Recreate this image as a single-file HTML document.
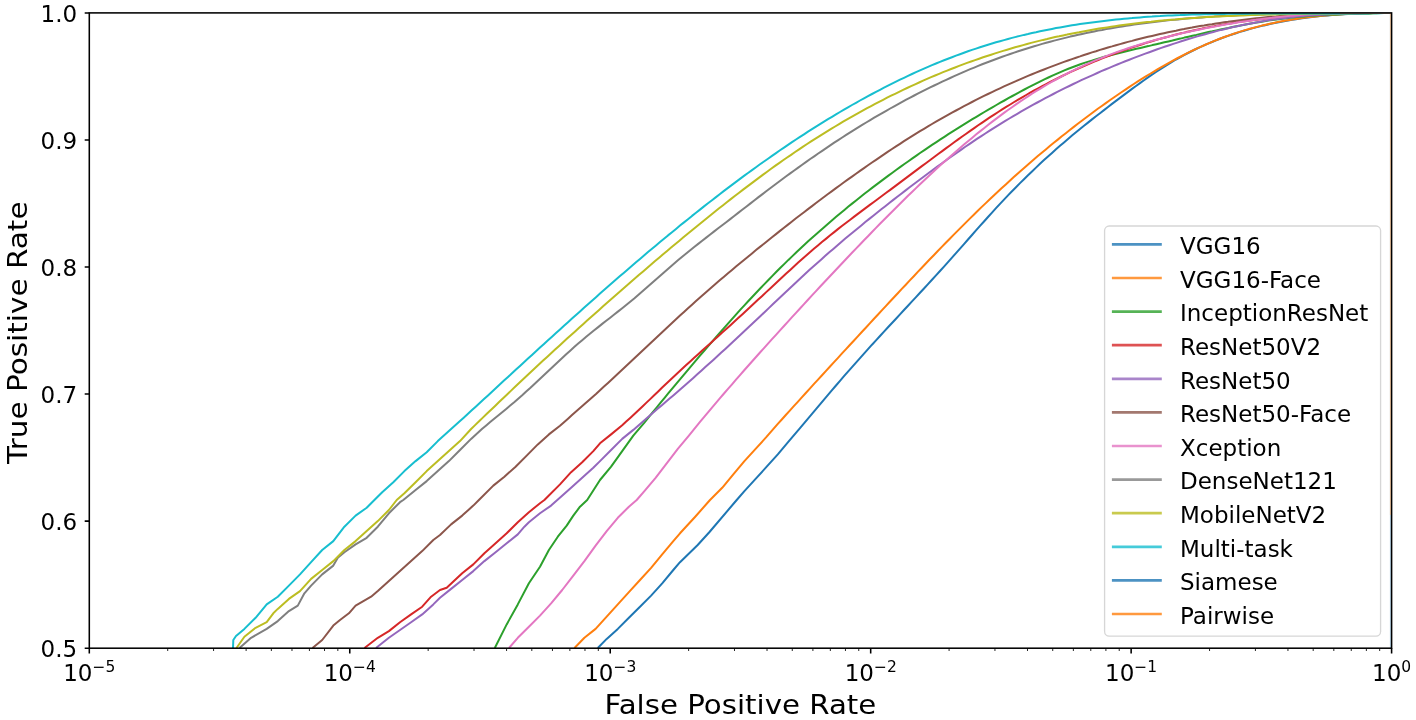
<!DOCTYPE html>
<html lang="en"><head><meta charset="utf-8"><title>ROC curves</title>
<style>html,body{margin:0;padding:0;background:#fff}svg{display:block}text{font-family:"DejaVu Sans","Liberation Sans",sans-serif;fill:#000}</style></head><body>
<svg width="1416" height="720" viewBox="0 0 1416 720">
<rect width="1416" height="720" fill="#fff"/>
<defs><clipPath id="ax"><rect x="89.3" y="12.9" width="1302.3" height="635.3000000000001"/></clipPath></defs>
<g clip-path="url(#ax)" fill="none" stroke-width="2.0" stroke-linejoin="round" stroke-linecap="butt">
<path d="M597.8,648.0 L606.7,638.9 L617.8,628.9 L628.9,617.8 L640.0,606.7 L651.1,595.6 L662.2,583.3 L673.3,570.0 L680.0,562.2 L697.7,545.0 L709.5,532.0 L736.7,500.0 L744.4,491.1 L755.6,478.9 L766.7,466.7 L777.8,454.4 L788.9,441.1 L800.0,428.1 L804.0,423.3 L808.0,418.6 L812.0,413.8 L816.0,409.1 L820.0,404.3 L824.0,399.6 L828.0,394.9 L832.0,390.2 L836.0,385.5 L840.0,380.9 L844.0,376.2 L848.0,371.6 L852.0,367.1 L856.0,362.6 L860.0,358.1 L864.0,353.6 L868.0,349.2 L872.0,344.7 L876.0,340.4 L880.0,336.0 L884.0,331.6 L888.0,327.3 L892.0,323.0 L896.0,318.7 L900.0,314.4 L904.0,310.0 L908.0,305.7 L912.0,301.4 L916.0,297.1 L920.0,292.8 L924.0,288.5 L928.0,284.1 L932.0,279.8 L936.0,275.4 L940.0,271.0 L944.0,266.6 L948.0,262.1 L952.0,257.6 L956.0,253.1 L960.0,248.6 L964.0,244.1 L968.0,239.5 L972.0,235.0 L976.0,230.4 L980.0,225.9 L984.0,221.5 L988.0,217.0 L992.0,212.6 L996.0,208.2 L1000.0,203.9 L1004.0,199.6 L1008.0,195.4 L1012.0,191.3 L1016.0,187.2 L1020.0,183.1 L1024.0,179.2 L1028.0,175.2 L1032.0,171.4 L1036.0,167.6 L1040.0,163.8 L1044.0,160.1 L1048.0,156.5 L1052.0,152.9 L1056.0,149.3 L1060.0,145.8 L1064.0,142.4 L1068.0,139.0 L1072.0,135.6 L1076.0,132.3 L1080.0,129.0 L1084.0,125.8 L1088.0,122.6 L1092.0,119.4 L1096.0,116.3 L1100.0,113.2 L1104.0,110.1 L1108.0,107.0 L1112.0,103.9 L1116.0,100.9 L1120.0,97.9 L1124.0,94.9 L1128.0,91.9 L1132.0,88.9 L1136.0,86.0 L1140.0,83.1 L1144.0,80.3 L1148.0,77.4 L1152.0,74.7 L1156.0,72.0 L1160.0,69.4 L1164.0,66.8 L1168.0,64.3 L1172.0,61.9 L1176.0,59.5 L1180.0,57.3 L1184.0,55.1 L1188.0,53.0 L1192.0,51.0 L1196.0,49.0 L1200.0,47.2 L1204.0,45.4 L1208.0,43.6 L1212.0,42.0 L1216.0,40.4 L1220.0,38.8 L1224.0,37.3 L1228.0,35.9 L1232.0,34.5 L1236.0,33.2 L1240.0,31.9 L1244.0,30.7 L1248.0,29.6 L1252.0,28.4 L1256.0,27.4 L1260.0,26.4 L1264.0,25.4 L1268.0,24.5 L1272.0,23.6 L1276.0,22.7 L1280.0,21.9 L1284.0,21.2 L1288.0,20.5 L1292.0,19.8 L1296.0,19.2 L1300.0,18.6 L1304.0,18.0 L1308.0,17.5 L1312.0,17.0 L1316.0,16.5 L1320.0,16.1 L1324.0,15.7 L1328.0,15.4 L1332.0,15.0 L1336.0,14.7 L1340.0,14.4 L1344.0,14.2 L1348.0,14.0 L1352.0,13.8 L1356.0,13.6 L1360.0,13.4 L1364.0,13.3 L1368.0,13.2 L1372.0,13.1 L1376.0,13.0 L1380.0,13.0 L1384.0,12.9 L1388.0,12.9 L1391.5,12.9" stroke="#1f77b4"/>
<path d="M574.5,648.0 L584.4,637.8 L595.6,628.9 L606.7,616.7 L617.8,604.4 L628.9,592.2 L640.0,580.0 L651.1,567.8 L662.2,554.4 L673.3,541.1 L680.0,533.3 L695.0,517.0 L710.0,500.0 L722.2,487.8 L733.3,474.4 L744.4,461.1 L755.6,448.9 L766.7,436.7 L777.8,423.9 L781.8,419.5 L785.8,415.0 L789.8,410.6 L793.8,406.2 L797.8,401.8 L801.8,397.4 L805.8,393.0 L809.8,388.6 L813.8,384.2 L817.8,379.9 L821.8,375.5 L825.8,371.1 L829.8,366.8 L833.8,362.4 L837.8,358.1 L841.8,353.7 L845.8,349.4 L849.8,345.0 L853.8,340.7 L857.8,336.3 L861.8,332.0 L865.8,327.7 L869.8,323.4 L873.8,319.0 L877.8,314.7 L881.8,310.4 L885.8,306.1 L889.8,301.8 L893.8,297.5 L897.8,293.2 L901.8,288.9 L905.8,284.7 L909.8,280.4 L913.8,276.2 L917.8,271.9 L921.8,267.7 L925.8,263.5 L929.8,259.3 L933.8,255.2 L937.8,251.0 L941.8,246.9 L945.8,242.8 L949.8,238.7 L953.8,234.6 L957.8,230.6 L961.8,226.6 L965.8,222.6 L969.8,218.6 L973.8,214.7 L977.8,210.8 L981.8,206.9 L985.8,203.1 L989.8,199.3 L993.8,195.5 L997.8,191.8 L1001.8,188.0 L1005.8,184.4 L1009.8,180.7 L1013.8,177.1 L1017.8,173.5 L1021.8,170.0 L1025.8,166.5 L1029.8,163.0 L1033.8,159.5 L1037.8,156.1 L1041.8,152.8 L1045.8,149.4 L1049.8,146.1 L1053.8,142.8 L1057.8,139.6 L1061.8,136.3 L1065.8,133.2 L1069.8,130.0 L1073.8,126.9 L1077.8,123.8 L1081.8,120.8 L1085.8,117.7 L1089.8,114.7 L1093.8,111.8 L1097.8,108.8 L1101.8,106.0 L1105.8,103.1 L1109.8,100.3 L1113.8,97.5 L1117.8,94.7 L1121.8,92.0 L1125.8,89.3 L1129.8,86.6 L1133.8,84.0 L1137.8,81.4 L1141.8,78.9 L1145.8,76.4 L1149.8,74.0 L1153.8,71.6 L1157.8,69.2 L1161.8,66.9 L1165.8,64.6 L1169.8,62.4 L1173.8,60.2 L1177.8,58.0 L1181.8,56.0 L1185.8,53.9 L1189.8,51.9 L1193.8,50.0 L1197.8,48.1 L1201.8,46.3 L1205.8,44.5 L1209.8,42.8 L1213.8,41.1 L1217.8,39.5 L1221.8,38.0 L1225.8,36.5 L1229.8,35.1 L1233.8,33.7 L1237.8,32.4 L1241.8,31.1 L1245.8,29.9 L1249.8,28.8 L1253.8,27.7 L1257.8,26.6 L1261.8,25.6 L1265.8,24.7 L1269.8,23.8 L1273.8,22.9 L1277.8,22.1 L1281.8,21.3 L1285.8,20.6 L1289.8,19.9 L1293.8,19.3 L1297.8,18.7 L1301.8,18.1 L1305.8,17.6 L1309.8,17.1 L1313.8,16.7 L1317.8,16.2 L1321.8,15.8 L1325.8,15.5 L1329.8,15.1 L1333.8,14.8 L1337.8,14.6 L1341.8,14.3 L1345.8,14.1 L1349.8,13.9 L1353.8,13.7 L1357.8,13.5 L1361.8,13.4 L1365.8,13.3 L1369.8,13.2 L1373.8,13.1 L1377.8,13.0 L1381.8,13.0 L1385.8,12.9 L1389.8,12.9 L1391.5,12.9" stroke="#ff7f0e"/>
<path d="M494.8,648.0 L506.7,624.4 L517.8,604.4 L528.9,583.3 L540.0,566.7 L548.9,550.0 L557.8,536.7 L566.7,525.6 L573.3,515.6 L580.0,506.7 L587.2,500.0 L600.0,480.0 L611.1,466.7 L622.2,451.1 L633.3,435.6 L644.4,422.6 L648.4,417.7 L652.4,412.7 L656.4,407.8 L660.4,402.9 L664.4,398.1 L668.4,393.2 L672.4,388.4 L676.4,383.6 L680.4,378.9 L684.4,374.1 L688.4,369.3 L692.4,364.6 L696.4,359.9 L700.4,355.2 L704.4,350.5 L708.4,345.9 L712.4,341.3 L716.4,336.7 L720.4,332.1 L724.4,327.6 L728.4,323.1 L732.4,318.6 L736.4,314.1 L740.4,309.7 L744.4,305.4 L748.4,301.0 L752.4,296.7 L756.4,292.5 L760.4,288.3 L764.4,284.1 L768.4,280.0 L772.4,275.9 L776.4,271.8 L780.4,267.8 L784.4,263.9 L788.4,259.9 L792.4,256.1 L796.4,252.3 L800.4,248.5 L804.4,244.8 L808.4,241.1 L812.4,237.5 L816.4,233.9 L820.4,230.4 L824.4,226.9 L828.4,223.4 L832.4,220.0 L836.4,216.6 L840.4,213.2 L844.4,209.9 L848.4,206.6 L852.4,203.4 L856.4,200.2 L860.4,197.0 L864.4,193.8 L868.4,190.7 L872.4,187.6 L876.4,184.6 L880.4,181.6 L884.4,178.6 L888.4,175.6 L892.4,172.7 L896.4,169.8 L900.4,166.9 L904.4,164.0 L908.4,161.2 L912.4,158.4 L916.4,155.6 L920.4,152.8 L924.4,150.1 L928.4,147.4 L932.4,144.7 L936.4,142.1 L940.4,139.4 L944.4,136.8 L948.4,134.2 L952.4,131.7 L956.4,129.2 L960.4,126.6 L964.4,124.1 L968.4,121.7 L972.4,119.2 L976.4,116.8 L980.4,114.4 L984.4,112.0 L988.4,109.7 L992.4,107.3 L996.4,105.0 L1000.4,102.7 L1004.4,100.5 L1008.4,98.2 L1012.4,96.0 L1016.4,93.8 L1020.4,91.6 L1024.4,89.5 L1028.4,87.4 L1032.4,85.3 L1036.4,83.3 L1040.4,81.3 L1044.4,79.4 L1048.4,77.5 L1052.4,75.6 L1056.4,73.8 L1060.4,72.1 L1064.4,70.4 L1068.4,68.8 L1072.4,67.2 L1076.4,65.7 L1080.4,64.3 L1084.4,62.9 L1088.4,61.6 L1092.4,60.4 L1096.4,59.1 L1100.4,58.0 L1104.4,56.8 L1108.4,55.8 L1112.4,54.7 L1116.4,53.7 L1120.4,52.7 L1124.4,51.7 L1128.4,50.7 L1132.4,49.8 L1136.4,48.8 L1140.4,47.9 L1144.4,47.0 L1148.4,46.1 L1152.4,45.1 L1156.4,44.2 L1160.4,43.3 L1164.4,42.3 L1168.4,41.4 L1172.4,40.5 L1176.4,39.5 L1180.4,38.6 L1184.4,37.6 L1188.4,36.7 L1192.4,35.8 L1196.4,34.9 L1200.4,33.9 L1204.4,33.0 L1208.4,32.1 L1212.4,31.3 L1216.4,30.4 L1220.4,29.5 L1224.4,28.7 L1228.4,27.9 L1232.4,27.0 L1236.4,26.2 L1240.4,25.5 L1244.4,24.7 L1248.4,24.0 L1252.4,23.3 L1256.4,22.6 L1260.4,21.9 L1264.4,21.2 L1268.4,20.6 L1272.4,20.0 L1276.4,19.5 L1280.4,18.9 L1284.4,18.4 L1288.4,18.0 L1292.4,17.5 L1296.4,17.1 L1300.4,16.7 L1304.4,16.4 L1308.4,16.0 L1312.4,15.7 L1316.4,15.5 L1320.4,15.2 L1324.4,15.0 L1328.4,14.8 L1332.4,14.6 L1336.4,14.4 L1340.4,14.2 L1344.4,14.1 L1348.4,13.9 L1352.4,13.8 L1356.4,13.7 L1360.4,13.6 L1364.4,13.5 L1368.4,13.4 L1372.4,13.3 L1376.4,13.2 L1380.4,13.1 L1384.4,13.1 L1388.4,13.0 L1391.5,12.9" stroke="#2ca02c"/>
<path d="M364.5,648.0 L377.8,637.8 L388.9,631.1 L400.0,622.2 L411.1,614.4 L422.2,606.7 L431.1,596.7 L440.0,590.0 L446.7,587.8 L462.2,573.3 L473.3,564.4 L484.4,553.3 L495.6,543.3 L506.7,533.3 L517.8,522.2 L528.9,512.2 L540.0,503.3 L544.4,500.0 L560.0,484.4 L571.1,472.2 L582.2,462.2 L593.3,451.1 L600.0,443.3 L611.1,434.4 L622.2,425.2 L626.2,421.6 L630.2,418.0 L634.2,414.3 L638.2,410.6 L642.2,406.8 L646.2,402.9 L650.2,399.1 L654.2,395.2 L658.2,391.4 L662.2,387.5 L666.2,383.7 L670.2,379.9 L674.2,376.2 L678.2,372.5 L682.2,368.8 L686.2,365.1 L690.2,361.4 L694.2,357.8 L698.2,354.2 L702.2,350.6 L706.2,347.0 L710.2,343.4 L714.2,339.8 L718.2,336.2 L722.2,332.6 L726.2,329.0 L730.2,325.4 L734.2,321.8 L738.2,318.1 L742.2,314.5 L746.2,310.8 L750.2,307.1 L754.2,303.3 L758.2,299.6 L762.2,295.9 L766.2,292.1 L770.2,288.4 L774.2,284.7 L778.2,280.9 L782.2,277.2 L786.2,273.5 L790.2,269.9 L794.2,266.2 L798.2,262.6 L802.2,259.0 L806.2,255.5 L810.2,252.0 L814.2,248.6 L818.2,245.2 L822.2,241.8 L826.2,238.6 L830.2,235.3 L834.2,232.1 L838.2,228.9 L842.2,225.8 L846.2,222.7 L850.2,219.7 L854.2,216.6 L858.2,213.6 L862.2,210.6 L866.2,207.6 L870.2,204.6 L874.2,201.7 L878.2,198.7 L882.2,195.8 L886.2,192.8 L890.2,189.9 L894.2,186.9 L898.2,183.9 L902.2,180.9 L906.2,177.9 L910.2,174.9 L914.2,171.9 L918.2,168.9 L922.2,165.9 L926.2,163.0 L930.2,160.0 L934.2,157.0 L938.2,154.0 L942.2,151.1 L946.2,148.1 L950.2,145.2 L954.2,142.3 L958.2,139.4 L962.2,136.5 L966.2,133.7 L970.2,130.9 L974.2,128.1 L978.2,125.3 L982.2,122.6 L986.2,119.9 L990.2,117.2 L994.2,114.6 L998.2,112.0 L1002.2,109.4 L1006.2,106.9 L1010.2,104.5 L1014.2,102.0 L1018.2,99.6 L1022.2,97.3 L1026.2,95.0 L1030.2,92.7 L1034.2,90.5 L1038.2,88.3 L1042.2,86.2 L1046.2,84.1 L1050.2,82.0 L1054.2,80.0 L1058.2,78.0 L1062.2,76.0 L1066.2,74.1 L1070.2,72.2 L1074.2,70.4 L1078.2,68.5 L1082.2,66.8 L1086.2,65.0 L1090.2,63.3 L1094.2,61.6 L1098.2,60.0 L1102.2,58.4 L1106.2,56.8 L1110.2,55.3 L1114.2,53.8 L1118.2,52.3 L1122.2,50.9 L1126.2,49.5 L1130.2,48.1 L1134.2,46.8 L1138.2,45.5 L1142.2,44.2 L1146.2,42.9 L1150.2,41.7 L1154.2,40.5 L1158.2,39.4 L1162.2,38.3 L1166.2,37.2 L1170.2,36.1 L1174.2,35.0 L1178.2,34.0 L1182.2,33.1 L1186.2,32.1 L1190.2,31.2 L1194.2,30.3 L1198.2,29.4 L1202.2,28.6 L1206.2,27.7 L1210.2,26.9 L1214.2,26.2 L1218.2,25.4 L1222.2,24.7 L1226.2,24.0 L1230.2,23.4 L1234.2,22.7 L1238.2,22.1 L1242.2,21.5 L1246.2,20.9 L1250.2,20.4 L1254.2,19.9 L1258.2,19.4 L1262.2,18.9 L1266.2,18.4 L1270.2,18.0 L1274.2,17.6 L1278.2,17.2 L1282.2,16.8 L1286.2,16.5 L1290.2,16.1 L1294.2,15.8 L1298.2,15.5 L1302.2,15.3 L1306.2,15.0 L1310.2,14.8 L1314.2,14.6 L1318.2,14.4 L1322.2,14.2 L1326.2,14.0 L1330.2,13.9 L1334.2,13.7 L1338.2,13.6 L1342.2,13.5 L1346.2,13.4 L1350.2,13.3 L1354.2,13.2 L1358.2,13.2 L1362.2,13.1 L1366.2,13.1 L1370.2,13.1 L1374.2,13.0 L1378.2,13.0 L1382.2,13.0 L1386.2,13.0 L1390.2,13.0 L1391.5,13.0" stroke="#d62728"/>
<path d="M376.0,648.0 L388.9,637.8 L400.0,630.0 L411.1,622.2 L422.2,614.4 L433.3,604.4 L440.0,597.8 L451.1,588.9 L462.2,580.0 L473.3,571.1 L484.4,561.1 L495.6,552.2 L506.7,543.3 L517.8,534.4 L524.4,526.7 L528.9,522.2 L540.0,513.3 L551.1,505.6 L557.3,500.0 L571.1,487.8 L582.2,477.8 L593.3,467.8 L600.0,461.1 L611.1,450.0 L622.2,438.9 L633.3,429.9 L637.3,426.4 L641.3,422.9 L645.3,419.5 L649.3,416.0 L653.3,412.6 L657.3,409.1 L661.3,405.7 L665.3,402.3 L669.3,398.8 L673.3,395.4 L677.3,391.9 L681.3,388.4 L685.3,384.9 L689.3,381.4 L693.3,377.9 L697.3,374.3 L701.3,370.7 L705.3,367.1 L709.3,363.5 L713.3,359.9 L717.3,356.3 L721.3,352.6 L725.3,348.9 L729.3,345.2 L733.3,341.5 L737.3,337.8 L741.3,334.1 L745.3,330.3 L749.3,326.5 L753.3,322.8 L757.3,319.0 L761.3,315.2 L765.3,311.4 L769.3,307.6 L773.3,303.8 L777.3,300.0 L781.3,296.2 L785.3,292.4 L789.3,288.7 L793.3,284.9 L797.3,281.2 L801.3,277.5 L805.3,273.8 L809.3,270.1 L813.3,266.5 L817.3,262.9 L821.3,259.4 L825.3,255.8 L829.3,252.3 L833.3,248.9 L837.3,245.4 L841.3,242.0 L845.3,238.6 L849.3,235.3 L853.3,232.0 L857.3,228.7 L861.3,225.4 L865.3,222.1 L869.3,218.9 L873.3,215.7 L877.3,212.5 L881.3,209.3 L885.3,206.2 L889.3,203.0 L893.3,199.9 L897.3,196.8 L901.3,193.7 L905.3,190.6 L909.3,187.5 L913.3,184.5 L917.3,181.5 L921.3,178.5 L925.3,175.5 L929.3,172.5 L933.3,169.6 L937.3,166.6 L941.3,163.7 L945.3,160.9 L949.3,158.0 L953.3,155.2 L957.3,152.4 L961.3,149.6 L965.3,146.8 L969.3,144.1 L973.3,141.4 L977.3,138.7 L981.3,136.1 L985.3,133.5 L989.3,130.9 L993.3,128.4 L997.3,125.9 L1001.3,123.4 L1005.3,120.9 L1009.3,118.5 L1013.3,116.1 L1017.3,113.8 L1021.3,111.4 L1025.3,109.2 L1029.3,106.9 L1033.3,104.7 L1037.3,102.5 L1041.3,100.3 L1045.3,98.2 L1049.3,96.1 L1053.3,94.0 L1057.3,91.9 L1061.3,89.9 L1065.3,87.9 L1069.3,86.0 L1073.3,84.0 L1077.3,82.1 L1081.3,80.2 L1085.3,78.4 L1089.3,76.6 L1093.3,74.8 L1097.3,73.0 L1101.3,71.2 L1105.3,69.5 L1109.3,67.8 L1113.3,66.1 L1117.3,64.5 L1121.3,62.9 L1125.3,61.3 L1129.3,59.7 L1133.3,58.1 L1137.3,56.6 L1141.3,55.1 L1145.3,53.6 L1149.3,52.2 L1153.3,50.7 L1157.3,49.3 L1161.3,47.9 L1165.3,46.5 L1169.3,45.2 L1173.3,43.9 L1177.3,42.6 L1181.3,41.3 L1185.3,40.0 L1189.3,38.8 L1193.3,37.6 L1197.3,36.4 L1201.3,35.3 L1205.3,34.2 L1209.3,33.1 L1213.3,32.0 L1217.3,30.9 L1221.3,29.9 L1225.3,29.0 L1229.3,28.0 L1233.3,27.1 L1237.3,26.2 L1241.3,25.3 L1245.3,24.5 L1249.3,23.7 L1253.3,22.9 L1257.3,22.2 L1261.3,21.4 L1265.3,20.8 L1269.3,20.1 L1273.3,19.5 L1277.3,18.9 L1281.3,18.4 L1285.3,17.9 L1289.3,17.4 L1293.3,16.9 L1297.3,16.5 L1301.3,16.2 L1305.3,15.8 L1309.3,15.5 L1313.3,15.2 L1317.3,14.9 L1321.3,14.7 L1325.3,14.5 L1329.3,14.3 L1333.3,14.1 L1337.3,13.9 L1341.3,13.8 L1345.3,13.6 L1349.3,13.5 L1353.3,13.4 L1357.3,13.4 L1361.3,13.3 L1365.3,13.2 L1369.3,13.1 L1373.3,13.1 L1377.3,13.0 L1381.3,13.0 L1385.3,13.0 L1389.3,12.9 L1391.5,12.9" stroke="#9467bd"/>
<path d="M312.5,648.0 L322.2,640.0 L333.3,625.6 L340.0,620.0 L348.9,613.3 L355.6,605.6 L371.1,596.7 L377.8,591.1 L388.9,581.1 L400.0,571.1 L411.1,561.1 L422.2,551.1 L433.3,540.0 L440.0,535.0 L451.1,524.4 L462.2,515.6 L473.3,505.6 L478.9,500.0 L493.3,485.6 L504.4,476.7 L515.6,466.7 L526.7,455.6 L537.8,444.4 L548.9,434.4 L560.0,425.7 L564.0,422.2 L568.0,418.7 L572.0,415.1 L576.0,411.6 L580.0,408.1 L584.0,404.6 L588.0,401.0 L592.0,397.4 L596.0,393.9 L600.0,390.2 L604.0,386.6 L608.0,382.9 L612.0,379.2 L616.0,375.5 L620.0,371.8 L624.0,368.1 L628.0,364.3 L632.0,360.6 L636.0,356.8 L640.0,353.0 L644.0,349.2 L648.0,345.5 L652.0,341.7 L656.0,337.9 L660.0,334.2 L664.0,330.4 L668.0,326.7 L672.0,323.0 L676.0,319.3 L680.0,315.6 L684.0,311.9 L688.0,308.3 L692.0,304.7 L696.0,301.1 L700.0,297.5 L704.0,294.0 L708.0,290.5 L712.0,287.0 L716.0,283.6 L720.0,280.1 L724.0,276.7 L728.0,273.3 L732.0,270.0 L736.0,266.6 L740.0,263.3 L744.0,260.0 L748.0,256.7 L752.0,253.4 L756.0,250.1 L760.0,246.9 L764.0,243.7 L768.0,240.4 L772.0,237.2 L776.0,234.1 L780.0,230.9 L784.0,227.7 L788.0,224.6 L792.0,221.5 L796.0,218.3 L800.0,215.3 L804.0,212.2 L808.0,209.1 L812.0,206.1 L816.0,203.0 L820.0,200.0 L824.0,197.0 L828.0,194.0 L832.0,191.1 L836.0,188.1 L840.0,185.2 L844.0,182.3 L848.0,179.4 L852.0,176.6 L856.0,173.7 L860.0,170.9 L864.0,168.1 L868.0,165.3 L872.0,162.5 L876.0,159.8 L880.0,157.1 L884.0,154.4 L888.0,151.7 L892.0,149.0 L896.0,146.4 L900.0,143.8 L904.0,141.2 L908.0,138.7 L912.0,136.2 L916.0,133.7 L920.0,131.2 L924.0,128.8 L928.0,126.4 L932.0,124.0 L936.0,121.7 L940.0,119.4 L944.0,117.1 L948.0,114.9 L952.0,112.6 L956.0,110.5 L960.0,108.3 L964.0,106.2 L968.0,104.1 L972.0,102.0 L976.0,99.9 L980.0,97.9 L984.0,95.9 L988.0,94.0 L992.0,92.1 L996.0,90.2 L1000.0,88.3 L1004.0,86.4 L1008.0,84.6 L1012.0,82.8 L1016.0,81.1 L1020.0,79.3 L1024.0,77.6 L1028.0,75.9 L1032.0,74.3 L1036.0,72.6 L1040.0,71.0 L1044.0,69.5 L1048.0,67.9 L1052.0,66.4 L1056.0,64.9 L1060.0,63.4 L1064.0,61.9 L1068.0,60.5 L1072.0,59.1 L1076.0,57.7 L1080.0,56.4 L1084.0,55.0 L1088.0,53.7 L1092.0,52.4 L1096.0,51.2 L1100.0,49.9 L1104.0,48.7 L1108.0,47.5 L1112.0,46.4 L1116.0,45.2 L1120.0,44.1 L1124.0,43.0 L1128.0,41.9 L1132.0,40.9 L1136.0,39.8 L1140.0,38.8 L1144.0,37.8 L1148.0,36.8 L1152.0,35.9 L1156.0,35.0 L1160.0,34.1 L1164.0,33.2 L1168.0,32.3 L1172.0,31.5 L1176.0,30.7 L1180.0,29.8 L1184.0,29.1 L1188.0,28.3 L1192.0,27.6 L1196.0,26.8 L1200.0,26.1 L1204.0,25.5 L1208.0,24.8 L1212.0,24.2 L1216.0,23.5 L1220.0,22.9 L1224.0,22.3 L1228.0,21.8 L1232.0,21.2 L1236.0,20.7 L1240.0,20.2 L1244.0,19.7 L1248.0,19.2 L1252.0,18.7 L1256.0,18.3 L1260.0,17.9 L1264.0,17.5 L1268.0,17.1 L1272.0,16.7 L1276.0,16.4 L1280.0,16.0 L1284.0,15.7 L1288.0,15.4 L1292.0,15.1 L1296.0,14.9 L1300.0,14.6 L1304.0,14.4 L1308.0,14.1 L1312.0,13.9 L1316.0,13.7 L1320.0,13.6 L1324.0,13.4 L1328.0,13.3 L1332.0,13.1 L1336.0,13.0 L1340.0,12.9 L1344.0,12.9 L1348.0,12.9 L1352.0,12.9 L1356.0,12.9 L1360.0,12.9 L1364.0,12.9 L1368.0,12.9 L1372.0,12.9 L1376.0,12.9 L1380.0,12.9 L1384.0,12.9 L1388.0,12.9 L1391.5,12.9" stroke="#8c564b"/>
<path d="M509.0,648.0 L517.8,637.8 L528.9,626.7 L540.0,615.6 L551.1,603.3 L562.2,590.0 L573.3,575.6 L584.4,561.1 L595.6,545.6 L606.7,531.1 L617.8,517.8 L628.9,506.7 L636.7,500.0 L644.4,491.1 L655.6,477.8 L666.7,463.3 L677.8,448.9 L688.9,435.6 L700.0,421.9 L704.0,417.1 L708.0,412.3 L712.0,407.6 L716.0,402.8 L720.0,398.2 L724.0,393.5 L728.0,388.9 L732.0,384.3 L736.0,379.7 L740.0,375.1 L744.0,370.5 L748.0,366.0 L752.0,361.5 L756.0,357.0 L760.0,352.5 L764.0,348.1 L768.0,343.6 L772.0,339.2 L776.0,334.8 L780.0,330.4 L784.0,326.0 L788.0,321.6 L792.0,317.2 L796.0,312.8 L800.0,308.5 L804.0,304.1 L808.0,299.8 L812.0,295.4 L816.0,291.1 L820.0,286.8 L824.0,282.5 L828.0,278.3 L832.0,274.0 L836.0,269.7 L840.0,265.5 L844.0,261.3 L848.0,257.0 L852.0,252.8 L856.0,248.6 L860.0,244.5 L864.0,240.3 L868.0,236.2 L872.0,232.0 L876.0,227.9 L880.0,223.8 L884.0,219.8 L888.0,215.7 L892.0,211.7 L896.0,207.7 L900.0,203.7 L904.0,199.8 L908.0,195.8 L912.0,192.0 L916.0,188.1 L920.0,184.3 L924.0,180.5 L928.0,176.7 L932.0,173.0 L936.0,169.3 L940.0,165.6 L944.0,162.0 L948.0,158.5 L952.0,154.9 L956.0,151.4 L960.0,148.0 L964.0,144.6 L968.0,141.2 L972.0,137.9 L976.0,134.6 L980.0,131.4 L984.0,128.2 L988.0,125.0 L992.0,121.9 L996.0,118.9 L1000.0,115.9 L1004.0,112.9 L1008.0,110.0 L1012.0,107.2 L1016.0,104.4 L1020.0,101.6 L1024.0,99.0 L1028.0,96.3 L1032.0,93.7 L1036.0,91.2 L1040.0,88.8 L1044.0,86.3 L1048.0,84.0 L1052.0,81.7 L1056.0,79.5 L1060.0,77.3 L1064.0,75.2 L1068.0,73.1 L1072.0,71.1 L1076.0,69.2 L1080.0,67.3 L1084.0,65.4 L1088.0,63.7 L1092.0,61.9 L1096.0,60.2 L1100.0,58.6 L1104.0,57.0 L1108.0,55.4 L1112.0,53.9 L1116.0,52.4 L1120.0,51.0 L1124.0,49.6 L1128.0,48.2 L1132.0,46.9 L1136.0,45.7 L1140.0,44.4 L1144.0,43.2 L1148.0,42.0 L1152.0,40.9 L1156.0,39.8 L1160.0,38.7 L1164.0,37.7 L1168.0,36.7 L1172.0,35.7 L1176.0,34.7 L1180.0,33.8 L1184.0,32.8 L1188.0,31.9 L1192.0,31.1 L1196.0,30.2 L1200.0,29.4 L1204.0,28.6 L1208.0,27.8 L1212.0,27.0 L1216.0,26.3 L1220.0,25.5 L1224.0,24.8 L1228.0,24.1 L1232.0,23.4 L1236.0,22.8 L1240.0,22.1 L1244.0,21.5 L1248.0,20.9 L1252.0,20.3 L1256.0,19.8 L1260.0,19.2 L1264.0,18.7 L1268.0,18.2 L1272.0,17.8 L1276.0,17.3 L1280.0,16.9 L1284.0,16.5 L1288.0,16.1 L1292.0,15.8 L1296.0,15.4 L1300.0,15.1 L1304.0,14.8 L1308.0,14.6 L1312.0,14.3 L1316.0,14.1 L1320.0,13.9 L1324.0,13.7 L1328.0,13.6 L1332.0,13.4 L1336.0,13.3 L1340.0,13.2 L1344.0,13.1 L1348.0,13.0 L1352.0,13.0 L1356.0,12.9 L1360.0,12.9 L1364.0,12.9 L1368.0,12.9 L1372.0,12.9 L1376.0,12.9 L1380.0,12.9 L1384.0,12.9 L1388.0,12.9 L1391.5,12.9" stroke="#e377c2"/>
<path d="M239.5,648.0 L251.1,637.8 L266.7,628.9 L277.8,621.1 L288.9,611.1 L297.8,605.6 L304.4,593.3 L311.1,585.6 L322.2,574.4 L333.3,565.6 L337.8,557.8 L344.4,552.2 L355.6,544.4 L366.7,537.8 L377.8,526.7 L388.9,513.3 L400.0,502.2 L403.3,500.0 L415.6,490.0 L426.7,481.1 L437.8,471.1 L448.9,461.1 L460.0,450.0 L471.1,438.9 L482.2,428.8 L486.2,425.4 L490.2,422.0 L494.2,418.7 L498.2,415.5 L502.2,412.2 L506.2,408.9 L510.2,405.6 L514.2,402.3 L518.2,398.8 L522.2,395.3 L526.2,391.6 L530.2,388.0 L534.2,384.2 L538.2,380.5 L542.2,376.7 L546.2,372.9 L550.2,369.2 L554.2,365.4 L558.2,361.7 L562.2,358.0 L566.2,354.3 L570.2,350.7 L574.2,347.1 L578.2,343.6 L582.2,340.2 L586.2,336.8 L590.2,333.5 L594.2,330.3 L598.2,327.1 L602.2,323.9 L606.2,320.8 L610.2,317.7 L614.2,314.5 L618.2,311.4 L622.2,308.2 L626.2,305.0 L630.2,301.7 L634.2,298.4 L638.2,294.9 L642.2,291.5 L646.2,288.0 L650.2,284.5 L654.2,280.9 L658.2,277.4 L662.2,273.9 L666.2,270.4 L670.2,266.9 L674.2,263.5 L678.2,260.1 L682.2,256.7 L686.2,253.5 L690.2,250.2 L694.2,247.0 L698.2,243.9 L702.2,240.7 L706.2,237.6 L710.2,234.5 L714.2,231.4 L718.2,228.3 L722.2,225.2 L726.2,222.2 L730.2,219.1 L734.2,216.0 L738.2,212.9 L742.2,209.8 L746.2,206.7 L750.2,203.6 L754.2,200.5 L758.2,197.4 L762.2,194.4 L766.2,191.3 L770.2,188.3 L774.2,185.3 L778.2,182.3 L782.2,179.3 L786.2,176.3 L790.2,173.4 L794.2,170.5 L798.2,167.6 L802.2,164.7 L806.2,161.9 L810.2,159.0 L814.2,156.3 L818.2,153.5 L822.2,150.8 L826.2,148.1 L830.2,145.4 L834.2,142.7 L838.2,140.1 L842.2,137.5 L846.2,134.9 L850.2,132.4 L854.2,129.9 L858.2,127.4 L862.2,124.9 L866.2,122.5 L870.2,120.1 L874.2,117.7 L878.2,115.4 L882.2,113.1 L886.2,110.8 L890.2,108.5 L894.2,106.3 L898.2,104.1 L902.2,101.9 L906.2,99.7 L910.2,97.6 L914.2,95.5 L918.2,93.4 L922.2,91.4 L926.2,89.4 L930.2,87.4 L934.2,85.5 L938.2,83.6 L942.2,81.7 L946.2,79.8 L950.2,78.0 L954.2,76.2 L958.2,74.4 L962.2,72.6 L966.2,70.9 L970.2,69.2 L974.2,67.6 L978.2,65.9 L982.2,64.3 L986.2,62.8 L990.2,61.2 L994.2,59.7 L998.2,58.2 L1002.2,56.8 L1006.2,55.4 L1010.2,54.0 L1014.2,52.6 L1018.2,51.3 L1022.2,50.0 L1026.2,48.7 L1030.2,47.5 L1034.2,46.3 L1038.2,45.1 L1042.2,43.9 L1046.2,42.8 L1050.2,41.7 L1054.2,40.6 L1058.2,39.6 L1062.2,38.6 L1066.2,37.6 L1070.2,36.6 L1074.2,35.7 L1078.2,34.8 L1082.2,33.9 L1086.2,33.1 L1090.2,32.2 L1094.2,31.4 L1098.2,30.6 L1102.2,29.9 L1106.2,29.1 L1110.2,28.4 L1114.2,27.7 L1118.2,27.0 L1122.2,26.4 L1126.2,25.8 L1130.2,25.2 L1134.2,24.6 L1138.2,24.0 L1142.2,23.5 L1146.2,22.9 L1150.2,22.4 L1154.2,21.9 L1158.2,21.5 L1162.2,21.0 L1166.2,20.6 L1170.2,20.1 L1174.2,19.7 L1178.2,19.4 L1182.2,19.0 L1186.2,18.6 L1190.2,18.3 L1194.2,18.0 L1198.2,17.7 L1202.2,17.4 L1206.2,17.1 L1210.2,16.8 L1214.2,16.6 L1218.2,16.3 L1222.2,16.1 L1226.2,15.9 L1230.2,15.7 L1234.2,15.5 L1238.2,15.3 L1242.2,15.1 L1246.2,15.0 L1250.2,14.8 L1254.2,14.7 L1258.2,14.5 L1262.2,14.4 L1266.2,14.3 L1270.2,14.2 L1274.2,14.1 L1278.2,14.0 L1282.2,13.9 L1286.2,13.8 L1290.2,13.8 L1294.2,13.7 L1298.2,13.6 L1302.2,13.6 L1306.2,13.5 L1310.2,13.5 L1314.2,13.4 L1318.2,13.4 L1322.2,13.4 L1326.2,13.3 L1330.2,13.3 L1334.2,13.3 L1338.2,13.3 L1342.2,13.2 L1346.2,13.2 L1350.2,13.2 L1354.2,13.2 L1358.2,13.1 L1362.2,13.1 L1366.2,13.1 L1370.2,13.1 L1374.2,13.0 L1378.2,13.0 L1382.2,13.0 L1386.2,12.9 L1390.2,12.9 L1391.5,12.9" stroke="#7f7f7f"/>
<path d="M236.5,648.0 L244.4,636.7 L255.6,627.8 L266.7,622.2 L273.3,613.3 L277.8,608.9 L288.9,598.9 L300.0,591.1 L311.1,578.9 L322.2,570.0 L333.3,561.1 L344.4,550.0 L355.6,541.1 L366.7,531.1 L377.8,521.1 L388.9,510.0 L396.7,500.0 L404.4,493.3 L415.6,482.2 L426.7,471.1 L437.8,461.1 L448.9,451.1 L460.0,441.1 L471.1,429.0 L475.1,425.1 L479.1,421.3 L483.1,417.4 L487.1,413.5 L491.1,409.7 L495.1,405.9 L499.1,402.0 L503.1,398.2 L507.1,394.4 L511.1,390.6 L515.1,386.8 L519.1,383.0 L523.1,379.3 L527.1,375.5 L531.1,371.8 L535.1,368.1 L539.1,364.3 L543.1,360.6 L547.1,356.9 L551.1,353.2 L555.1,349.6 L559.1,345.9 L563.1,342.3 L567.1,338.6 L571.1,335.0 L575.1,331.4 L579.1,327.8 L583.1,324.2 L587.1,320.6 L591.1,317.0 L595.1,313.4 L599.1,309.9 L603.1,306.3 L607.1,302.8 L611.1,299.2 L615.1,295.7 L619.1,292.2 L623.1,288.7 L627.1,285.2 L631.1,281.7 L635.1,278.3 L639.1,274.8 L643.1,271.4 L647.1,267.9 L651.1,264.5 L655.1,261.1 L659.1,257.7 L663.1,254.3 L667.1,250.9 L671.1,247.6 L675.1,244.2 L679.1,240.9 L683.1,237.6 L687.1,234.3 L691.1,231.0 L695.1,227.7 L699.1,224.4 L703.1,221.2 L707.1,217.9 L711.1,214.7 L715.1,211.5 L719.1,208.3 L723.1,205.2 L727.1,202.0 L731.1,198.9 L735.1,195.8 L739.1,192.7 L743.1,189.6 L747.1,186.6 L751.1,183.6 L755.1,180.6 L759.1,177.6 L763.1,174.6 L767.1,171.7 L771.1,168.8 L775.1,165.9 L779.1,163.1 L783.1,160.3 L787.1,157.5 L791.1,154.8 L795.1,152.0 L799.1,149.3 L803.1,146.7 L807.1,144.0 L811.1,141.4 L815.1,138.9 L819.1,136.3 L823.1,133.8 L827.1,131.4 L831.1,128.9 L835.1,126.5 L839.1,124.1 L843.1,121.7 L847.1,119.4 L851.1,117.1 L855.1,114.8 L859.1,112.6 L863.1,110.4 L867.1,108.2 L871.1,106.1 L875.1,103.9 L879.1,101.8 L883.1,99.8 L887.1,97.7 L891.1,95.7 L895.1,93.8 L899.1,91.8 L903.1,89.9 L907.1,88.0 L911.1,86.1 L915.1,84.3 L919.1,82.5 L923.1,80.7 L927.1,78.9 L931.1,77.2 L935.1,75.5 L939.1,73.9 L943.1,72.2 L947.1,70.6 L951.1,69.0 L955.1,67.5 L959.1,65.9 L963.1,64.4 L967.1,62.9 L971.1,61.5 L975.1,60.1 L979.1,58.7 L983.1,57.3 L987.1,56.0 L991.1,54.7 L995.1,53.4 L999.1,52.1 L1003.1,50.9 L1007.1,49.7 L1011.1,48.5 L1015.1,47.3 L1019.1,46.2 L1023.1,45.1 L1027.1,44.0 L1031.1,42.9 L1035.1,41.9 L1039.1,40.9 L1043.1,39.9 L1047.1,39.0 L1051.1,38.0 L1055.1,37.1 L1059.1,36.3 L1063.1,35.4 L1067.1,34.6 L1071.1,33.7 L1075.1,32.9 L1079.1,32.2 L1083.1,31.4 L1087.1,30.7 L1091.1,30.0 L1095.1,29.3 L1099.1,28.6 L1103.1,28.0 L1107.1,27.4 L1111.1,26.8 L1115.1,26.2 L1119.1,25.6 L1123.1,25.0 L1127.1,24.5 L1131.1,24.0 L1135.1,23.5 L1139.1,23.0 L1143.1,22.5 L1147.1,22.1 L1151.1,21.7 L1155.1,21.2 L1159.1,20.8 L1163.1,20.4 L1167.1,20.1 L1171.1,19.7 L1175.1,19.4 L1179.1,19.0 L1183.1,18.7 L1187.1,18.4 L1191.1,18.1 L1195.1,17.9 L1199.1,17.6 L1203.1,17.3 L1207.1,17.1 L1211.1,16.9 L1215.1,16.6 L1219.1,16.4 L1223.1,16.2 L1227.1,16.0 L1231.1,15.9 L1235.1,15.7 L1239.1,15.5 L1243.1,15.4 L1247.1,15.2 L1251.1,15.1 L1255.1,15.0 L1259.1,14.8 L1263.1,14.7 L1267.1,14.6 L1271.1,14.5 L1275.1,14.4 L1279.1,14.3 L1283.1,14.3 L1287.1,14.2 L1291.1,14.1 L1295.1,14.0 L1299.1,14.0 L1303.1,13.9 L1307.1,13.9 L1311.1,13.8 L1315.1,13.7 L1319.1,13.7 L1323.1,13.7 L1327.1,13.6 L1331.1,13.6 L1335.1,13.5 L1339.1,13.5 L1343.1,13.4 L1347.1,13.4 L1351.1,13.4 L1355.1,13.3 L1359.1,13.3 L1363.1,13.2 L1367.1,13.2 L1371.1,13.2 L1375.1,13.1 L1379.1,13.1 L1383.1,13.0 L1387.1,13.0 L1391.1,12.9 L1391.5,12.9" stroke="#bcbd22"/>
<path d="M233.0,648.0 L233.3,640.0 L236.0,636.0 L244.4,628.9 L255.6,617.8 L266.7,604.4 L277.8,596.7 L288.9,585.6 L300.0,574.4 L311.1,562.2 L322.2,550.0 L333.3,541.1 L344.4,526.7 L355.6,515.6 L366.7,507.8 L374.4,500.0 L382.2,492.2 L393.3,482.2 L404.4,471.1 L415.6,461.1 L426.7,452.2 L437.8,441.1 L448.9,431.1 L460.0,421.1 L464.0,417.5 L468.0,413.8 L472.0,410.1 L476.0,406.4 L480.0,402.7 L484.0,399.1 L488.0,395.4 L492.0,391.7 L496.0,388.0 L500.0,384.3 L504.0,380.6 L508.0,377.0 L512.0,373.3 L516.0,369.6 L520.0,365.9 L524.0,362.3 L528.0,358.6 L532.0,354.9 L536.0,351.3 L540.0,347.6 L544.0,344.0 L548.0,340.3 L552.0,336.7 L556.0,333.1 L560.0,329.4 L564.0,325.8 L568.0,322.2 L572.0,318.6 L576.0,315.0 L580.0,311.4 L584.0,307.8 L588.0,304.3 L592.0,300.7 L596.0,297.2 L600.0,293.6 L604.0,290.1 L608.0,286.6 L612.0,283.1 L616.0,279.6 L620.0,276.1 L624.0,272.7 L628.0,269.2 L632.0,265.8 L636.0,262.3 L640.0,258.9 L644.0,255.5 L648.0,252.1 L652.0,248.8 L656.0,245.4 L660.0,242.1 L664.0,238.8 L668.0,235.4 L672.0,232.2 L676.0,228.9 L680.0,225.6 L684.0,222.4 L688.0,219.2 L692.0,215.9 L696.0,212.8 L700.0,209.6 L704.0,206.4 L708.0,203.3 L712.0,200.2 L716.0,197.1 L720.0,194.0 L724.0,190.9 L728.0,187.9 L732.0,184.9 L736.0,181.9 L740.0,178.9 L744.0,175.9 L748.0,173.0 L752.0,170.1 L756.0,167.2 L760.0,164.3 L764.0,161.5 L768.0,158.7 L772.0,155.9 L776.0,153.1 L780.0,150.3 L784.0,147.6 L788.0,144.9 L792.0,142.2 L796.0,139.5 L800.0,136.9 L804.0,134.3 L808.0,131.7 L812.0,129.2 L816.0,126.6 L820.0,124.1 L824.0,121.6 L828.0,119.2 L832.0,116.8 L836.0,114.4 L840.0,112.0 L844.0,109.6 L848.0,107.3 L852.0,105.0 L856.0,102.8 L860.0,100.5 L864.0,98.3 L868.0,96.1 L872.0,94.0 L876.0,91.9 L880.0,89.8 L884.0,87.7 L888.0,85.7 L892.0,83.6 L896.0,81.7 L900.0,79.7 L904.0,77.8 L908.0,75.9 L912.0,74.0 L916.0,72.2 L920.0,70.4 L924.0,68.6 L928.0,66.9 L932.0,65.2 L936.0,63.5 L940.0,61.9 L944.0,60.3 L948.0,58.7 L952.0,57.2 L956.0,55.6 L960.0,54.2 L964.0,52.7 L968.0,51.3 L972.0,49.9 L976.0,48.6 L980.0,47.3 L984.0,46.0 L988.0,44.7 L992.0,43.5 L996.0,42.3 L1000.0,41.2 L1004.0,40.1 L1008.0,39.0 L1012.0,37.9 L1016.0,36.9 L1020.0,35.9 L1024.0,34.9 L1028.0,34.0 L1032.0,33.0 L1036.0,32.2 L1040.0,31.3 L1044.0,30.5 L1048.0,29.7 L1052.0,28.9 L1056.0,28.1 L1060.0,27.4 L1064.0,26.7 L1068.0,26.0 L1072.0,25.3 L1076.0,24.7 L1080.0,24.1 L1084.0,23.5 L1088.0,22.9 L1092.0,22.4 L1096.0,21.9 L1100.0,21.4 L1104.0,20.9 L1108.0,20.4 L1112.0,20.0 L1116.0,19.6 L1120.0,19.2 L1124.0,18.8 L1128.0,18.4 L1132.0,18.1 L1136.0,17.7 L1140.0,17.4 L1144.0,17.1 L1148.0,16.8 L1152.0,16.6 L1156.0,16.3 L1160.0,16.1 L1164.0,15.8 L1168.0,15.6 L1172.0,15.4 L1176.0,15.2 L1180.0,15.1 L1184.0,14.9 L1188.0,14.8 L1192.0,14.6 L1196.0,14.5 L1200.0,14.4 L1204.0,14.3 L1208.0,14.2 L1212.0,14.1 L1216.0,14.0 L1220.0,14.0 L1224.0,13.9 L1228.0,13.8 L1232.0,13.8 L1236.0,13.8 L1240.0,13.7 L1244.0,13.7 L1248.0,13.7 L1252.0,13.6 L1256.0,13.6 L1260.0,13.6 L1264.0,13.6 L1268.0,13.6 L1272.0,13.6 L1276.0,13.6 L1280.0,13.6 L1284.0,13.6 L1288.0,13.6 L1292.0,13.6 L1296.0,13.6 L1300.0,13.6 L1304.0,13.6 L1308.0,13.6 L1312.0,13.6 L1316.0,13.6 L1320.0,13.6 L1324.0,13.6 L1328.0,13.6 L1332.0,13.6 L1336.0,13.6 L1340.0,13.6 L1344.0,13.6 L1348.0,13.6 L1352.0,13.6 L1356.0,13.5 L1360.0,13.5 L1364.0,13.5 L1368.0,13.4 L1372.0,13.3 L1376.0,13.3 L1380.0,13.2 L1384.0,13.1 L1388.0,13.0 L1391.5,12.9" stroke="#17becf"/>
<path d="M1390.6,12.9 V648.2" stroke="#1f77b4" stroke-width="1.4" stroke-opacity="0.3"/>
<path d="M1390.6,12.9 V515" stroke="#f3c9a3" stroke-width="1.4"/>
<path d="M1340,12.9 H1391.6" stroke="#e58a6a" stroke-opacity="0.7"/>
</g>
<path d="M89.30,648.2 v5.3 M349.76,648.2 v5.3 M610.22,648.2 v5.3 M870.68,648.2 v5.3 M1131.14,648.2 v5.3 M1391.60,648.2 v5.3 M89.3,648.20 h-4.6 M89.3,521.14 h-4.6 M89.3,394.08 h-4.6 M89.3,267.02 h-4.6 M89.3,139.96 h-4.6 M89.3,12.90 h-4.6" stroke="#000" stroke-width="1.55" fill="none"/>
<path d="M167.71,648.2 v2.8 M213.57,648.2 v2.8 M246.11,648.2 v2.8 M271.35,648.2 v2.8 M291.98,648.2 v2.8 M309.41,648.2 v2.8 M324.52,648.2 v2.8 M337.84,648.2 v2.8 M428.17,648.2 v2.8 M474.03,648.2 v2.8 M506.57,648.2 v2.8 M531.81,648.2 v2.8 M552.44,648.2 v2.8 M569.87,648.2 v2.8 M584.98,648.2 v2.8 M598.30,648.2 v2.8 M688.63,648.2 v2.8 M734.49,648.2 v2.8 M767.03,648.2 v2.8 M792.27,648.2 v2.8 M812.90,648.2 v2.8 M830.33,648.2 v2.8 M845.44,648.2 v2.8 M858.76,648.2 v2.8 M949.09,648.2 v2.8 M994.95,648.2 v2.8 M1027.49,648.2 v2.8 M1052.73,648.2 v2.8 M1073.36,648.2 v2.8 M1090.79,648.2 v2.8 M1105.90,648.2 v2.8 M1119.22,648.2 v2.8 M1209.55,648.2 v2.8 M1255.41,648.2 v2.8 M1287.95,648.2 v2.8 M1313.19,648.2 v2.8 M1333.82,648.2 v2.8 M1351.25,648.2 v2.8 M1366.36,648.2 v2.8 M1379.68,648.2 v2.8" stroke="#000" stroke-width="0.85" fill="none"/>
<rect x="89.3" y="12.9" width="1302.3" height="635.3000000000001" fill="none" stroke="#000" stroke-width="1.55"/>
<g font-size="23">
<text x="77.2" y="656.8" text-anchor="end">0.5</text>
<text x="77.2" y="529.7" text-anchor="end">0.6</text>
<text x="77.2" y="402.7" text-anchor="end">0.7</text>
<text x="77.2" y="275.6" text-anchor="end">0.8</text>
<text x="77.2" y="148.6" text-anchor="end">0.9</text>
<text x="77.2" y="21.5" text-anchor="end">1.0</text>
<text x="89.3" y="680.6" text-anchor="middle">10<tspan dy="-8.4" font-size="15.5">−5</tspan></text>
<text x="349.8" y="680.6" text-anchor="middle">10<tspan dy="-8.4" font-size="15.5">−4</tspan></text>
<text x="610.2" y="680.6" text-anchor="middle">10<tspan dy="-8.4" font-size="15.5">−3</tspan></text>
<text x="870.7" y="680.6" text-anchor="middle">10<tspan dy="-8.4" font-size="15.5">−2</tspan></text>
<text x="1131.1" y="680.6" text-anchor="middle">10<tspan dy="-8.4" font-size="15.5">−1</tspan></text>
<text x="1391.6" y="680.6" text-anchor="middle">10<tspan dy="-8.4" font-size="15.5">0</tspan></text>
</g>
<text x="740.4" y="714.2" text-anchor="middle" font-size="27.4" textLength="271.8" lengthAdjust="spacingAndGlyphs">False Positive Rate</text>
<text transform="translate(27.2,332.7) rotate(-90)" text-anchor="middle" font-size="27.4" textLength="262.5" lengthAdjust="spacingAndGlyphs">True Positive Rate</text>
<rect x="1104.6" y="226.0" width="276.0" height="410.20000000000005" rx="4.6" ry="4.6" fill="#fff" fill-opacity="0.8" stroke="#ccc" stroke-opacity="0.8" stroke-width="1.3"/>
<g font-size="23">
<path d="M1111.9,244.4 H1161.8" stroke="#1f77b4" stroke-width="2.7" stroke-opacity="0.8" fill="none"/>
<text x="1180" y="254.2">VGG16</text>
<path d="M1111.9,278.0 H1161.8" stroke="#ff7f0e" stroke-width="2.7" stroke-opacity="0.8" fill="none"/>
<text x="1180" y="287.8">VGG16-Face</text>
<path d="M1111.9,311.6 H1161.8" stroke="#2ca02c" stroke-width="2.7" stroke-opacity="0.8" fill="none"/>
<text x="1180" y="321.4">InceptionResNet</text>
<path d="M1111.9,345.2 H1161.8" stroke="#d62728" stroke-width="2.7" stroke-opacity="0.8" fill="none"/>
<text x="1180" y="355.0">ResNet50V2</text>
<path d="M1111.9,378.8 H1161.8" stroke="#9467bd" stroke-width="2.7" stroke-opacity="0.8" fill="none"/>
<text x="1180" y="388.6">ResNet50</text>
<path d="M1111.9,412.4 H1161.8" stroke="#8c564b" stroke-width="2.7" stroke-opacity="0.8" fill="none"/>
<text x="1180" y="422.2">ResNet50-Face</text>
<path d="M1111.9,446.0 H1161.8" stroke="#e377c2" stroke-width="2.7" stroke-opacity="0.8" fill="none"/>
<text x="1180" y="455.8">Xception</text>
<path d="M1111.9,479.6 H1161.8" stroke="#7f7f7f" stroke-width="2.7" stroke-opacity="0.8" fill="none"/>
<text x="1180" y="489.4">DenseNet121</text>
<path d="M1111.9,513.2 H1161.8" stroke="#bcbd22" stroke-width="2.7" stroke-opacity="0.8" fill="none"/>
<text x="1180" y="523.0">MobileNetV2</text>
<path d="M1111.9,546.8 H1161.8" stroke="#17becf" stroke-width="2.7" stroke-opacity="0.8" fill="none"/>
<text x="1180" y="556.6">Multi-task</text>
<path d="M1111.9,580.4 H1161.8" stroke="#1f77b4" stroke-width="2.7" stroke-opacity="0.8" fill="none"/>
<text x="1180" y="590.2">Siamese</text>
<path d="M1111.9,614.0 H1161.8" stroke="#ff7f0e" stroke-width="2.7" stroke-opacity="0.8" fill="none"/>
<text x="1180" y="623.8">Pairwise</text>
</g>
</svg></body></html>
